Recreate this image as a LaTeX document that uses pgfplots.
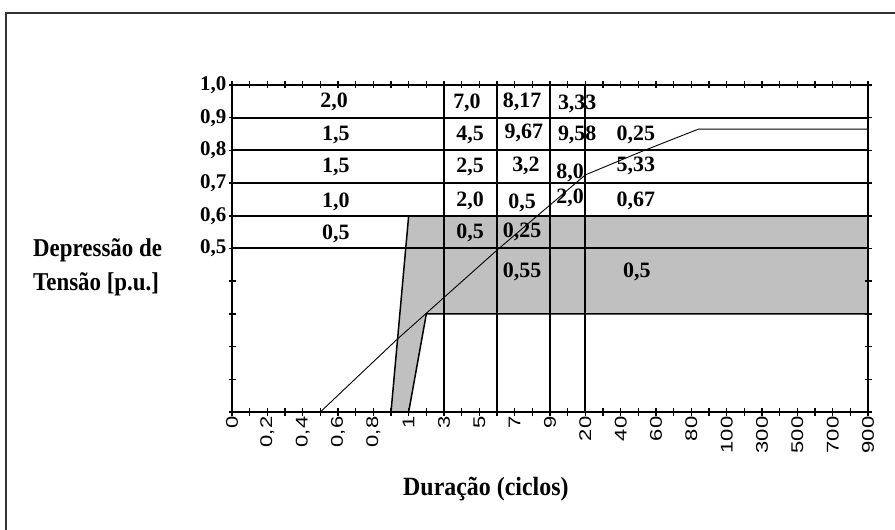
\documentclass[border=0pt]{standalone}
\usepackage{fontspec}
\setmainfont{Liberation Serif}
\setsansfont{Liberation Sans}
\usepackage{graphicx}
\usepackage{pgfplots}
\pgfplotsset{compat=1.18}
\definecolor{shadegray}{RGB}{192,192,192}
\newcommand{\xl}[1]{\scalebox{1.3}[1]{#1}}
\tikzset{cell/.style={font=\bfseries\fontsize{22}{22}\selectfont, inner sep=0pt}}
\begin{document}
\begin{tikzpicture}
\useasboundingbox (0bp,0bp) rectangle (895bp,530bp);
\draw[line width=2bp, black!80] (6bp,-5bp) -- (6bp,516.5bp) -- (900bp,516.5bp);
\begin{axis}[
  at={(232bp,118bp)}, anchor=south west,
  width=636bp, height=327bp, scale only axis,
  xmin=0, xmax=18, ymin=0, ymax=1,
  axis on top,
  axis line style={line width=2bp},
  xtick={0,1,...,18},
  xticklabels={\xl{0},\xl{0,2},\xl{0,4},\xl{0,6},\xl{0,8},\xl{1},\xl{3},\xl{5},\xl{7},\xl{9},\xl{20},\xl{40},\xl{60},\xl{80},\xl{100},\xl{300},\xl{500},\xl{700},\xl{900}},
  minor xtick={0.5,1.5,...,17.5},
  ytick={0,0.1,0.2,0.3,0.4,0.5,0.6,0.7,0.8,0.9,1},
  yticklabels={{},{},{},{},{},{0,5},{0,6},{0,7},{0,8},{0,9},{1,0}},
  tick align=center,
  major tick length=7bp, minor tick length=7bp,
  every tick/.style={line width=1.5bp, black},
  minor tick style={line width=1.5bp, black},
  xticklabel style={rotate=90, anchor=east, font=\sffamily\fontsize{17}{17}\selectfont, inner sep=1bp},
  yticklabel style={font=\bfseries\fontsize{21}{21}\selectfont, inner sep=2bp},
  clip=false,
]
% shaded region
\addplot[fill=shadegray, draw=none] coordinates {(4.5,0) (5,0.6) (18,0.6) (18,0.3) (5.5,0.3) (5,0)} -- cycle;
\addplot[black, line width=1.5bp] coordinates {(4.5,0) (5,0.6)};
\addplot[black, line width=1.5bp] coordinates {(5,0) (5.5,0.3) (18,0.3)};
% horizontal lines
\addplot[black, line width=2bp] coordinates {(0,0.9) (18,0.9)};
\addplot[black, line width=2bp] coordinates {(0,0.8) (18,0.8)};
\addplot[black, line width=2bp] coordinates {(0,0.7) (18,0.7)};
\addplot[black, line width=2bp] coordinates {(0,0.6) (18,0.6)};
\addplot[black, line width=2bp] coordinates {(0,0.5) (18,0.5)};
% vertical lines
\addplot[black, line width=2bp] coordinates {(6,0) (6,1)};
\addplot[black, line width=2bp] coordinates {(7.5,0) (7.5,1)};
\addplot[black, line width=2bp] coordinates {(9,0) (9,1)};
\addplot[black, line width=2bp] coordinates {(10,0) (10,1)};
% curve
\addplot[black, line width=0.9bp] coordinates {(2.5,0) (4.65,0.22) (7.5,0.495) (10,0.725) (11.6,0.797) (13.2,0.865) (18,0.865)};
% cell values
\node[cell] at (axis cs:2.89,0.948) {2,0};
\node[cell] at (axis cs:6.65,0.945) {7,0};
\node[cell] at (axis cs:8.21,0.948) {8,17};
\node[cell] at (axis cs:9.77,0.942) {3,33};
\node[cell] at (axis cs:2.94,0.846) {1,5};
\node[cell] at (axis cs:6.74,0.847) {4,5};
\node[cell] at (axis cs:8.26,0.853) {9,67};
\node[cell] at (axis cs:9.77,0.847) {9,58};
\node[cell] at (axis cs:11.43,0.847) {0,25};
\node[cell] at (axis cs:2.94,0.748) {1,5};
\node[cell] at (axis cs:6.74,0.748) {2,5};
\node[cell] at (axis cs:8.32,0.751) {3,2};
\node[cell] at (axis cs:9.57,0.731) {8,0};
\node[cell] at (axis cs:11.43,0.751) {5,33};
\node[cell] at (axis cs:2.94,0.644) {1,0};
\node[cell] at (axis cs:6.74,0.645) {2,0};
\node[cell] at (axis cs:8.21,0.639) {0,5};
\node[cell] at (axis cs:9.57,0.654) {2,0};
\node[cell] at (axis cs:11.43,0.645) {0,67};
\node[cell] at (axis cs:2.94,0.545) {0,5};
\node[cell] at (axis cs:6.74,0.547) {0,5};
\node[cell] at (axis cs:8.21,0.550) {0,25};
\node[cell] at (axis cs:8.21,0.428) {0,55};
\node[cell] at (axis cs:11.46,0.428) {0,5};
\end{axis}
\node[anchor=base west, inner sep=0pt, font=\bfseries\fontsize{23}{23}\selectfont] at (33bp,273bp) {\scalebox{1}[1.12]{Depressão de}};
\node[anchor=base west, inner sep=0pt, font=\bfseries\fontsize{23}{23}\selectfont] at (33bp,239bp) {\scalebox{1}[1.12]{Tensão [p.u.]}};
\node[anchor=base west, inner sep=0pt, font=\bfseries\fontsize{24}{24}\selectfont] at (403bp,35bp) {\scalebox{1}[1.1]{Duração (ciclos)}};
\end{tikzpicture}
\end{document}
